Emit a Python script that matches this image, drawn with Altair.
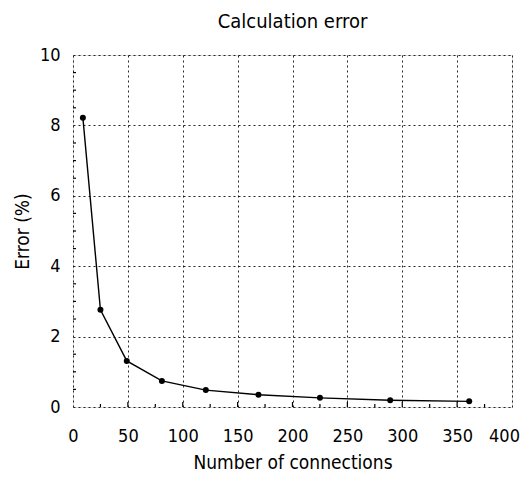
import altair as alt
import pandas as pd

# Data
connections = [9, 25, 49, 81, 121, 169, 225, 289, 361]
error_pct = [8.22, 2.76, 1.31, 0.74, 0.48, 0.35, 0.26, 0.19, 0.16]

x_ticks = [0, 50, 100, 150, 200, 250, 300, 350, 400]
y_ticks = [0, 2, 4, 6, 8, 10]
x_major_inner = [50, 100, 150, 200, 250, 300, 350]
x_minor = [25, 75, 125, 175, 225, 275, 325, 375]
y_minor = [0.5, 1, 1.5, 2.5, 3, 3.5, 4.5, 5, 5.5, 6.5, 7, 7.5, 8.5, 9, 9.5]

W, H = 439, 352
FONT = "DejaVu Sans Condensed, Noto Sans, sans-serif"

df = pd.DataFrame({"n": connections, "err": error_pct})

xscale = alt.Scale(domain=[0, 400], nice=False, zero=False)
yscale = alt.Scale(domain=[0, 10], nice=False, zero=False)

xaxis = alt.Axis(values=x_ticks, title="Number of connections", grid=True,
                 gridDash=[2, 3], gridColor="black", gridOpacity=0.85, gridWidth=1,
                 ticks=False, domain=False, labelPadding=20,
                 labelOffset=alt.expr("datum.value == 400 ? -8 : 0"),
                 labelFont=FONT, labelFontSize=18, labelColor="black",
                 titleFont=FONT, titleFontSize=19, titleFontWeight="normal",
                 titleColor="black", titlePadding=8, labelFlush=False)
yaxis = alt.Axis(values=y_ticks, title="Error (%)", grid=True,
                 gridDash=[2, 3], gridColor="black", gridOpacity=0.85, gridWidth=1,
                 ticks=False, domain=False, labelPadding=13,
                 labelFont=FONT, labelFontSize=18, labelColor="black",
                 titleFont=FONT, titleFontSize=19, titleFontWeight="normal",
                 titleColor="black", titlePadding=7, labelFlush=False)

X = alt.X("n:Q", scale=xscale, axis=xaxis)
Y = alt.Y("err:Q", scale=yscale, axis=yaxis)

line = alt.Chart(df).mark_line(color="black", strokeWidth=1.4).encode(x=X, y=Y)
pts = alt.Chart(df).mark_circle(color="black", size=36, opacity=1).encode(x=X, y=Y)

xmaj = alt.Chart(pd.DataFrame({"n": x_major_inner})).mark_rule(
    color="black", strokeWidth=1.2).encode(x=X, y=alt.value(H), y2=alt.value(H - 5))
xmin = alt.Chart(pd.DataFrame({"n": x_minor})).mark_rule(
    color="black", strokeWidth=1.2).encode(x=X, y=alt.value(H), y2=alt.value(H - 3))
ymin = alt.Chart(pd.DataFrame({"err": y_minor})).mark_rule(
    color="black", strokeWidth=1.2).encode(y=Y, x=alt.value(0), x2=alt.value(3))

chart = alt.layer(xmaj, xmin, ymin, line, pts).properties(
    width=W, height=H,
    title=alt.TitleParams("Calculation error", font=FONT, fontSize=20,
                          fontWeight="normal", color="black", offset=14,
                          anchor="middle"),
    autosize=alt.AutoSizeParams(type="none"),
    padding={"left": 65, "top": 47, "right": 9, "bottom": 68},
).configure_view(stroke="black", strokeWidth=1.6).configure(background="white")

chart.save("out.html", embed_options={"renderer": "svg", "actions": False})
